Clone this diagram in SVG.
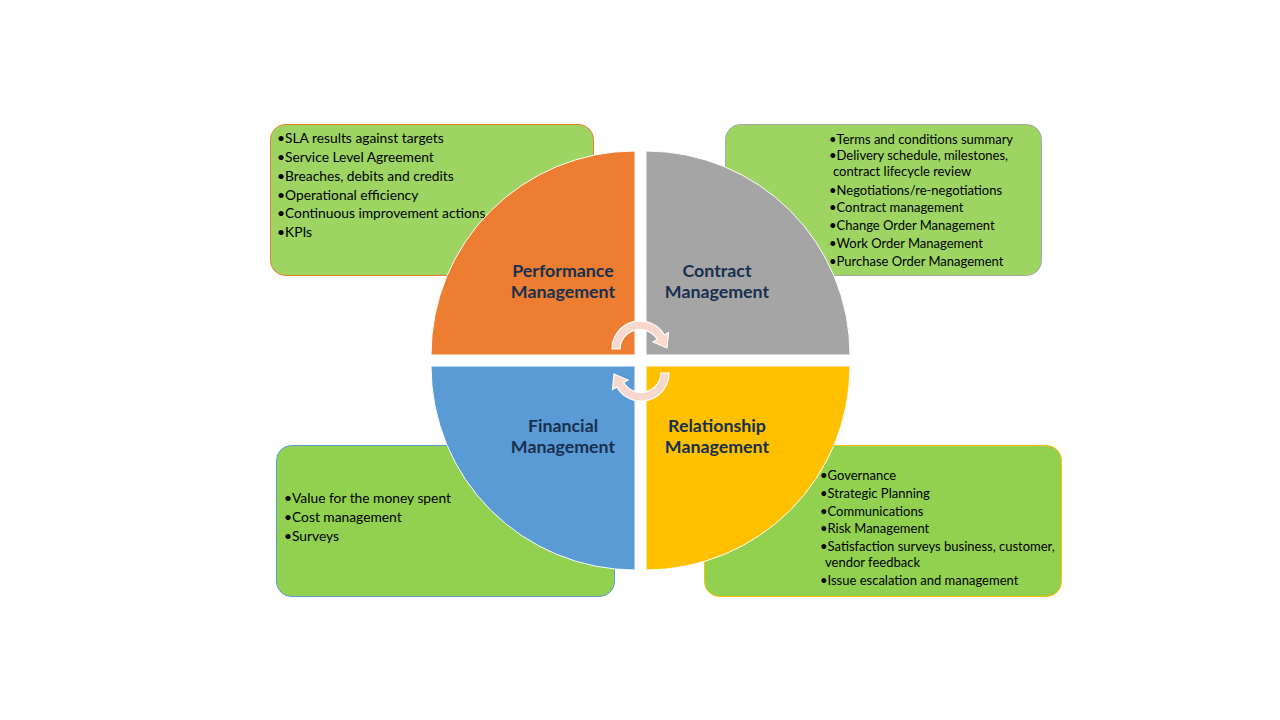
<svg xmlns="http://www.w3.org/2000/svg" width="1280" height="720" viewBox="0 0 1280 720">
<style>
.box{stroke-width:1}
.bt{font-family:Lato,"Liberation Sans",sans-serif;font-size:13px;fill:#000}
.bl{font-size:13.8px}
.tt{font-family:Lato,"Liberation Sans",sans-serif;font-size:17.8px;font-weight:bold;fill:#17304f;text-anchor:middle}
.q{stroke:#fff;stroke-width:1}
.arr{fill:#f8d8cc;stroke:#fff;stroke-width:1.2}
</style>
<defs>
<path id="ca" d="M612,349 A28,28 0 0 1 664.3,335 L668.5,332.5 L667,348 L653,342 L657.3,339.5 A20,20 0 0 0 620,349 Z"/>
</defs>
<rect width="1280" height="720" fill="#fff"/>
<g id="box-performance">
<rect class="box" x="270.5" y="124.5" width="323" height="151" rx="15" fill="#9dd462" stroke="#ed7d31"/>
<text class="bt bl" x="277" y="143">•SLA results against targets</text>
<text class="bt bl" x="277" y="162">•Service Level Agreement</text>
<text class="bt bl" x="277" y="180.5">•Breaches, debits and credits</text>
<text class="bt bl" x="277" y="199.5">•Operational efficiency</text>
<text class="bt bl" x="277" y="218">•Continuous improvement actions</text>
<text class="bt bl" x="277" y="237">•KPIs</text>
</g>
<g id="box-contract">
<rect class="box" x="725.5" y="124.5" width="316" height="151" rx="15" fill="#9dd462" stroke="#a5a5a5"/>
<text class="bt" x="829" y="143.5">•Terms and conditions  summary</text>
<text class="bt" x="829" y="159.5">•Delivery schedule, milestones,</text>
<text class="bt" x="833" y="176">contract lifecycle review</text>
<text class="bt" x="829" y="194.5">•Negotiations/re-negotiations</text>
<text class="bt" x="829" y="212">•Contract management</text>
<text class="bt" x="829" y="230">•Change Order Management</text>
<text class="bt" x="829" y="248">•Work Order Management</text>
<text class="bt" x="829" y="265.5">•Purchase Order Management</text>
</g>
<g id="box-financial">
<rect class="box" x="276.5" y="445.5" width="338" height="151" rx="15" fill="#92d050" stroke="#5b9bd5"/>
<text class="bt bl" x="284" y="503">•Value for the money spent</text>
<text class="bt bl" x="284" y="522">•Cost management</text>
<text class="bt bl" x="284" y="541">•Surveys</text>
</g>
<g id="box-relationship">
<rect class="box" x="704.5" y="445.5" width="357" height="151" rx="15" fill="#92d050" stroke="#ffc000"/>
<text class="bt" x="820" y="479.5">•Governance</text>
<text class="bt" x="820" y="498">•Strategic Planning</text>
<text class="bt" x="820" y="515.5">•Communications</text>
<text class="bt" x="820" y="533">•Risk Management</text>
<text class="bt" x="820" y="551">•Satisfaction surveys business,  customer,</text>
<text class="bt" x="825" y="567">vendor feedback</text>
<text class="bt" x="820" y="584.5">•Issue escalation and management</text>
</g>
<g id="performance">
<path class="q" d="M635,355 L431,355 A204,204 0 0 1 635,151 Z" fill="#ed7d31"/>
<text class="tt" x="563" y="277">Performance</text>
<text class="tt" x="563" y="298">Management</text>
</g>
<g id="contract">
<path class="q" d="M646,355 L646,151 A204,204 0 0 1 850,355 Z" fill="#a5a5a5"/>
<text class="tt" x="717" y="277">Contract</text>
<text class="tt" x="717" y="298">Management</text>
</g>
<g id="financial">
<path class="q" d="M635,366 L635,570 A204,204 0 0 1 431,366 Z" fill="#5b9bd5"/>
<text class="tt" x="563" y="432">Financial</text>
<text class="tt" x="563" y="453">Management</text>
</g>
<g id="relationship">
<path class="q" d="M646,366 L850,366 A204,204 0 0 1 646,570 Z" fill="#ffc000"/>
<text class="tt" x="717" y="432">Relationship</text>
<text class="tt" x="717" y="453">Management</text>
</g>
<g id="connectors">
<use href="#ca" class="arr"/>
<use href="#ca" class="arr" transform="rotate(180 640.5 361)"/>
</g>
</svg>
